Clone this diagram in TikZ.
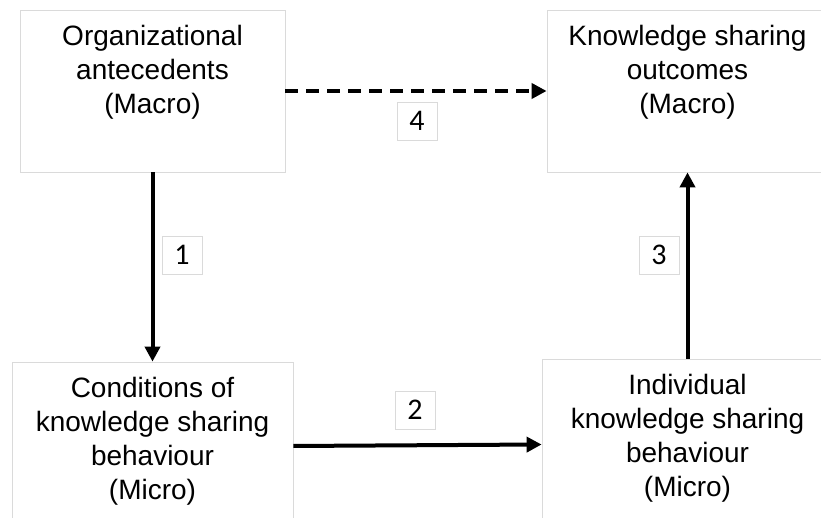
\documentclass[tikz,border=0pt]{standalone}
\usepackage{fontspec}
\setmainfont{Liberation Sans}
\newfontfamily\numfont{Carlito}
\usepackage{xcolor}
\usetikzlibrary{positioning, arrows.meta}
\definecolor{boxgray}{RGB}{218,218,218}
\tikzstyle{level} = [draw=boxgray,line width=0.8pt,rectangle,inner sep=0pt]
\tikzstyle{boxtext} = [align=center,inner sep=0pt,font=\fontsize{28}{34}\selectfont]
\tikzstyle{tag} = [draw=boxgray,line width=0.8pt,minimum width=40pt,minimum height=38pt,inner sep=0pt,font=\numfont\fontsize{30}{30}\selectfont]
\tikzstyle{arrow} = [line width=4pt,-{Triangle[length=15pt,width=15pt]}]

\begin{document}
\begin{tikzpicture}[x=1pt,y=1pt]
            \useasboundingbox (0,0) rectangle (821,518);
            \node[level,minimum width=265pt,minimum height=162pt] (org) at (152.5,427) {};
            \node[level,minimum width=281pt,minimum height=162pt] (outc) at (687.5,427) {};
            \node[level,minimum width=281pt,minimum height=168pt] (cond) at (152.5,72) {};
            \node[level,minimum width=291pt,minimum height=171pt] (indiv) at (687.5,73.5) {};

            \node[boxtext, below=15pt of org.north] {Organizational\\antecedents\\(Macro)};
            \node[boxtext, below=15pt of outc.north] {Knowledge sharing\\outcomes\\(Macro)};
            \node[boxtext, below=15pt of cond.north] {Conditions of\\knowledge sharing\\behaviour\\(Micro)};
            \node[boxtext, below=15pt of indiv.north] {Individual\\knowledge sharing\\behaviour\\(Micro)};

            \draw [arrow] (org.south) -- (cond.north);
            \draw [arrow] (cond.east) -- (indiv.west);
            \draw [arrow] (indiv.north) -- (outc.south);
            \draw [arrow,dash pattern=on 13pt off 8pt] (org.east) -- (outc.west);

            \node[tag] (tag1) at (182,263) {1};
            \node[tag] (tag2) at (415,108) {2};
            \node[tag] (tag3) at (659,263) {3};
            \node[tag] (tag4) at (417,397) {4};
        \end{tikzpicture}
\end{document}
